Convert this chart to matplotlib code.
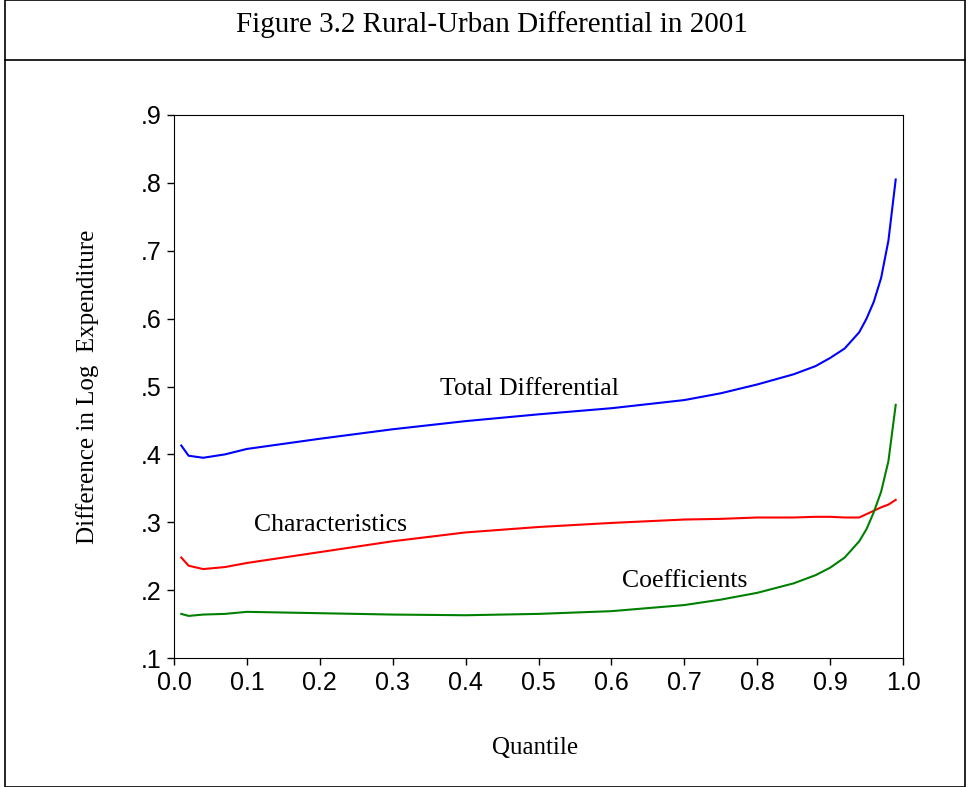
import numpy as np
import matplotlib.pyplot as plt

q = [0.01, 0.02, 0.04, 0.07, 0.1, 0.2, 0.3, 0.4, 0.5, 0.6, 0.7, 0.75, 0.8,
     0.85, 0.88, 0.9, 0.92, 0.94, 0.95, 0.96, 0.97, 0.98, 0.99]
total = [0.413, 0.398, 0.395, 0.400, 0.408, 0.423, 0.437, 0.449, 0.459, 0.468,
         0.480, 0.490, 0.503, 0.518, 0.530, 0.542, 0.556, 0.580, 0.600, 0.625,
         0.660, 0.715, 0.805]
chars = [0.248, 0.236, 0.231, 0.234, 0.240, 0.256, 0.272, 0.285, 0.293, 0.299,
         0.304, 0.305, 0.307, 0.307, 0.308, 0.308, 0.307, 0.307, 0.312, 0.317,
         0.322, 0.326, 0.333]
coef = [0.165, 0.162, 0.164, 0.165, 0.168, 0.166, 0.164, 0.163, 0.165, 0.169,
        0.178, 0.186, 0.196, 0.210, 0.222, 0.233, 0.248, 0.272, 0.290, 0.315,
        0.345, 0.390, 0.473]

fig = plt.figure(figsize=(9.69, 7.87), dpi=100)
ax = fig.add_axes([174/969, 1-658/787, 729/969, 543/787])

ax.plot(q, total, color='#0000ff', lw=1.5)
ax.plot(q, chars, color='#ff0000', lw=1.5)
ax.plot(q, coef, color='#008000', lw=1.5)

ax.set_xlim(0, 1.0)
ax.set_ylim(0.1, 0.9)
ax.set_xticks(np.arange(0, 1.01, 0.1))
ax.set_xticklabels([f"{v:.1f}" for v in np.arange(0, 1.01, 0.1)],
                   family='Liberation Sans', fontsize=18)
yt = np.arange(0.1, 0.91, 0.1)
ax.set_yticks(yt)
ax.set_yticklabels([f"{v:.1f}"[1:] for v in yt], family='Liberation Sans', fontsize=18)
ax.tick_params(direction='out', length=5, width=1, pad=4)

serif = 'Liberation Serif'
ax.set_ylabel('Difference in Log  Expenditure', family=serif, fontsize=18, labelpad=30)
fig.text(535/969, 1-748/787, 'Quantile', family=serif, fontsize=18, ha='center', va='center')
ax.text(0.365, 0.487, 'Total Differential', family=serif, fontsize=18.5)
ax.text(0.11, 0.287, 'Characteristics', family=serif, fontsize=18.5)
ax.text(0.615, 0.205, 'Coefficients', family=serif, fontsize=18.5)

fig.text(492/969, 1-25/787, 'Figure 3.2 Rural-Urban Differential in 2001',
         family=serif, fontsize=21, ha='center', va='center')
fig.add_artist(plt.Rectangle((5/969, 0), 960/969, 1, fill=False, lw=1.2,
                             transform=fig.transFigure))
fig.add_artist(plt.Line2D([5/969, 965/969], [1-60/787, 1-60/787], color='k', lw=1.2))

fig.savefig('out.png', dpi=100)
